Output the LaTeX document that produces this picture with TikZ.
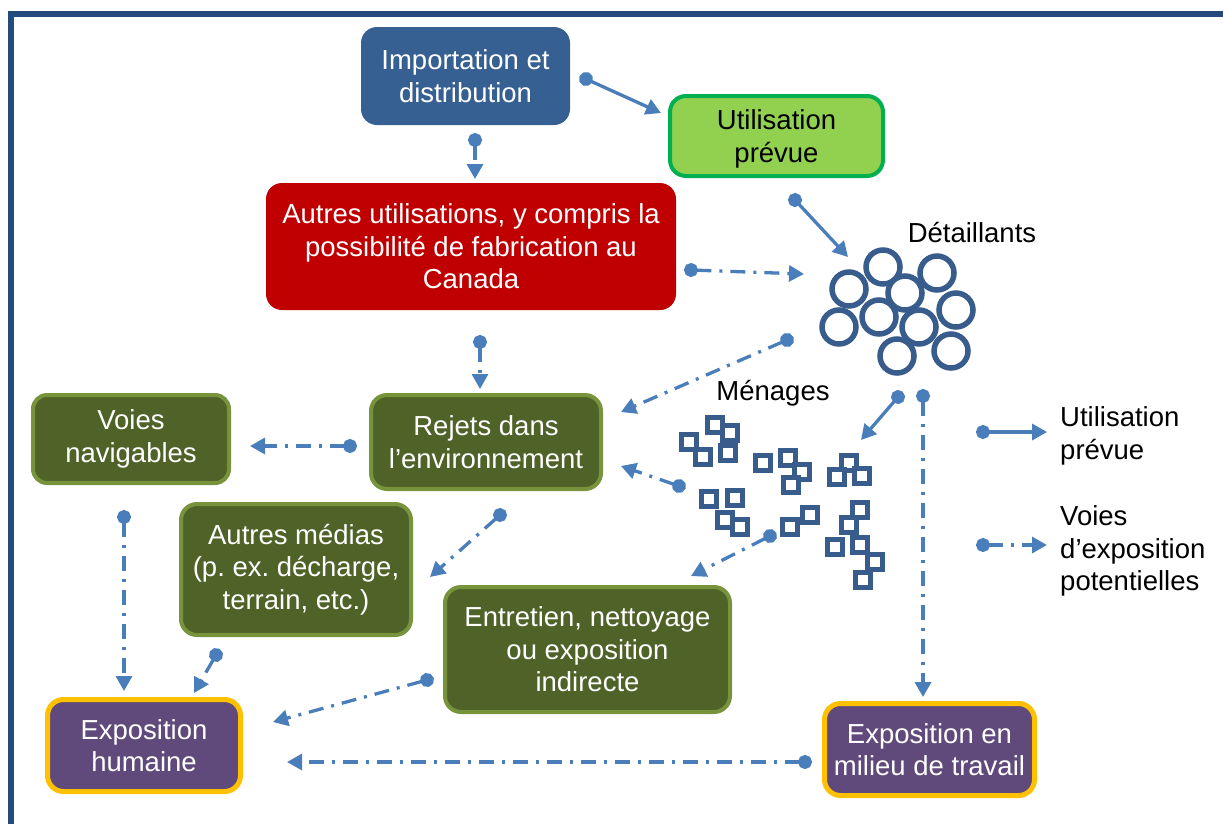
\documentclass[tikz,border=0pt]{standalone}
\usepackage{fontspec}
\setmainfont{Liberation Sans}
\frenchspacing
\usetikzlibrary{arrows.meta}
\definecolor{framebl}{RGB}{35,75,125}
\definecolor{impblue}{RGB}{55,96,146}
\definecolor{usegreen}{RGB}{146,208,80}
\definecolor{useborder}{RGB}{0,176,80}
\definecolor{redbox}{RGB}{192,0,0}
\definecolor{olive}{RGB}{79,98,40}
\definecolor{oliveb}{RGB}{119,147,60}
\definecolor{purp}{RGB}{96,74,123}
\definecolor{gold}{RGB}{255,192,0}
\definecolor{arrowbl}{RGB}{74,126,187}
\definecolor{shapebl}{RGB}{56,93,140}
\tikzset{
  box/.style={rounded corners=16pt, align=center, inner sep=0pt, font=\fontsize{27.5}{32.5}\selectfont, text=white},
  impbox/.style={box, fill=impblue},
  usebox/.style={box, fill=usegreen, draw=useborder, line width=4pt, text=black},
  redb/.style={box, fill=redbox},
  envbox/.style={box, fill=olive, draw=oliveb, line width=4pt},
  expbox/.style={box, fill=purp, draw=gold, line width=5pt},
  lbl/.style={font=\fontsize{27.5}{32.5}\selectfont, text=black, inner sep=0pt},
  conn/.style={line width=3.3pt, draw=arrowbl, shorten <=-7pt,
    {Circle[length=14pt,width=14pt]}-{Triangle[length=15pt,width=16pt]}},
  expo/.style={conn, dash pattern=on 15pt off 8pt on 3pt off 8pt},
  ring/.style={draw=shapebl, line width=5.5pt, fill=white},
  sq/.style={draw=shapebl, line width=4.2pt, fill=white},
}
\begin{document}
\begin{tikzpicture}[x=1pt,y=-1pt]
\useasboundingbox (0,0) rectangle (1223,823);
\draw[framebl, line width=6pt] (11,14) rectangle (1250,850);

% boxes
\node[impbox, minimum width=209pt, minimum height=98pt] (imp) at (465.5,76) {Importation et\\distribution};
\node[usebox, minimum width=213pt, minimum height=80pt] (use) at (776.5,136) {};
\node[lbl, align=center] (usetext) at (776.5,139) {Utilisation\\prévue};
\node[redb, minimum width=410pt, minimum height=127pt] (autres) at (471,246.5) {Autres utilisations, y compris la\\possibilité de fabrication au\\Canada};
\node[envbox, minimum width=230pt, minimum height=94pt] (rejets) at (486,442) {Rejets dans\\l’environnement};
\node[envbox, minimum width=196pt, minimum height=88pt, rounded corners=14pt] (voies) at (131,439) {Voies\\navigables};
\node[envbox, minimum width=230pt, minimum height=131pt] (medias) at (296,569.5) {Autres médias\\(p. ex. décharge,\\terrain, etc.)};
\node[envbox, minimum width=285pt, minimum height=125pt] (entretien) at (587.5,649.5) {Entretien, nettoyage\\ou exposition\\indirecte};
\node[expbox, minimum width=193pt, minimum height=92pt] (humaine) at (144,745.5) {Exposition\\humaine};
\node[expbox, minimum width=210pt, minimum height=92pt] (travail) at (929.5,749.5) {Exposition en\\milieu de travail};

% labels
\node[lbl] (det) at (972,233) {Détaillants};
\node[lbl] (men) at (773,393) {Ménages};

% retailers (circles)
\foreach \x/\y in {883/267, 937/273, 849/289, 905/293, 956/310, 879/317, 839/327, 919/327, 951/351, 897/356}
  \draw[ring] (\x,\y) circle (17pt);

% households (squares)
\foreach \x/\y in {689/442, 715/425, 730/433, 703/457, 728/453,
                   763/463, 788/458, 802/472, 791/485,
                   849/463, 837/477, 862/476,
                   709/499, 735/498, 725/520, 740/527,
                   790/527, 810/515,
                   860/510, 849/525, 835/547, 860/545, 875/562, 863/580}
  \draw[sq] (\x-7.5,\y-7.5) rectangle (\x+7.5,\y+7.5);

% connector end points
\coordinate (a1) at (586,79);   \coordinate (a2) at (661,113);
\coordinate (b1) at (795,200);  \coordinate (b2) at (848,257);
\coordinate (c1) at (898,397);  \coordinate (c2) at (861,440);
\coordinate (d1) at (475,140);  \coordinate (d2) at (475,179);
\coordinate (e1) at (691,270);  \coordinate (e2) at (804,274);
\coordinate (f1) at (480,342);  \coordinate (f2) at (480,389);
\coordinate (g1) at (787,340);  \coordinate (g2) at (621,412);
\coordinate (h1) at (350,446);  \coordinate (h2) at (250,446);
\coordinate (i1) at (679,486);  \coordinate (i2) at (621,466);
\coordinate (j1) at (500,515);  \coordinate (j2) at (430,577);
\coordinate (k1) at (770,536);  \coordinate (k2) at (691,576);
\coordinate (l1) at (124,517);  \coordinate (l2) at (124,691);
\coordinate (m1) at (216,655);  \coordinate (m2) at (194,693);
\coordinate (n1) at (427,680);  \coordinate (n2) at (273,722);
\coordinate (o1) at (923,396);  \coordinate (o2) at (923,697);
\coordinate (p1) at (805,762);  \coordinate (p2) at (287,762);

% intended use (solid)
\draw[conn] (a1) -- (a2);
\draw[conn] (b1) -- (b2);
\draw[conn] (c1) -- (c2);

% potential exposure (dash-dot)
\draw[expo] (d1) -- (d2);
\draw[expo] (e1) -- (e2);
\draw[expo] (f1) -- (f2);
\draw[expo] (g1) -- (g2);
\draw[expo] (h1) -- (h2);
\draw[expo] (i1) -- (i2);
\draw[expo] (j1) -- (j2);
\draw[expo] (k1) -- (k2);
\draw[expo] (l1) -- (l2);
\draw[expo] (m1) -- (m2);
\draw[expo] (n1) -- (n2);
\draw[expo] (o1) -- (o2);
\draw[expo] (p1) -- (p2);

% legend
\coordinate (lg1) at (983,432); \coordinate (lg2) at (1047,432);
\coordinate (lg3) at (983,545); \coordinate (lg4) at (1047,545);
\draw[conn] (lg1) -- (lg2);
\draw[expo] (lg3) -- (lg4);
\node[lbl, anchor=west, align=left] (leg1) at (1060,436) {Utilisation\\prévue};
\node[lbl, anchor=west, align=left] (leg2) at (1060,551) {Voies\\d’exposition\\potentielles};
\end{tikzpicture}
\end{document}
